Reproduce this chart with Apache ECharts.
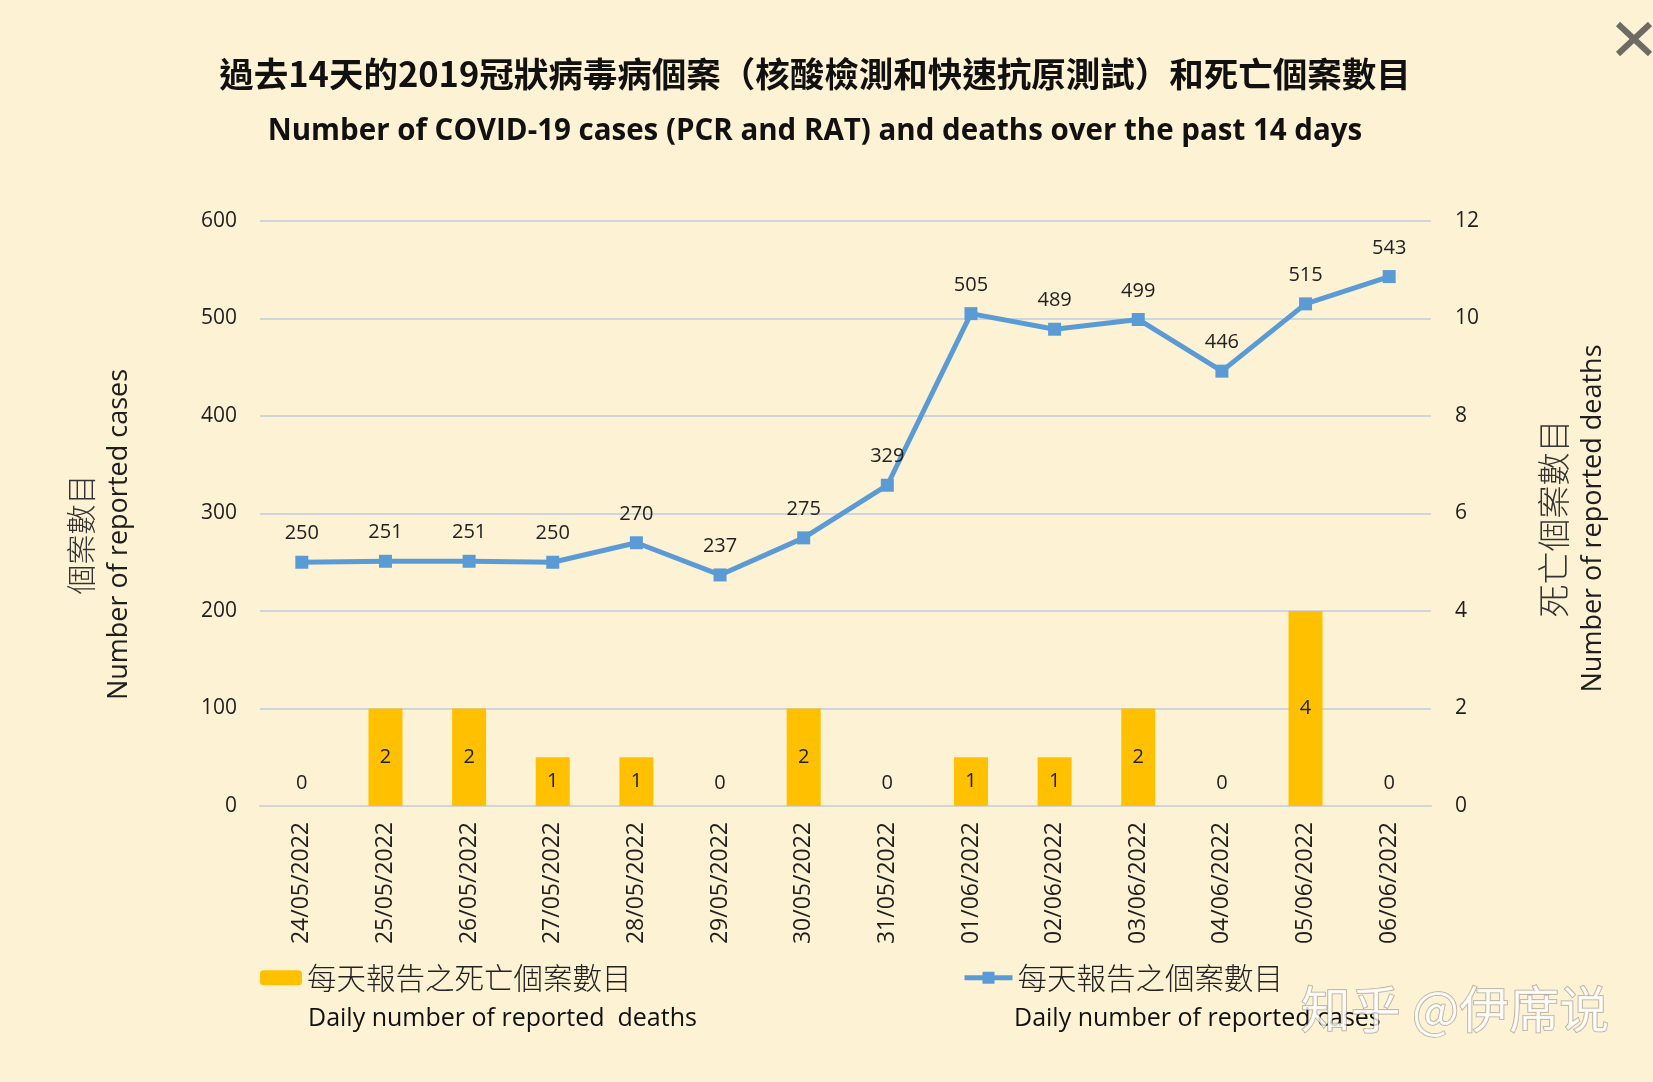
<!DOCTYPE html>
<html>
<head>
<meta charset="utf-8">
<script src="https://cdn.jsdelivr.net/npm/echarts@6/dist/echarts.min.js"></script>
<style>
  html, body { margin: 0; padding: 0; background: #fef2d5; }
  #show_charts { width: 1653px; height: 1082px; }
</style>
</head>
<body>
<div id="show_charts"></div>
<script>
// 日期
var dates = ['24/05/2022', '25/05/2022', '26/05/2022', '27/05/2022', '28/05/2022', '29/05/2022', '30/05/2022',
             '31/05/2022', '01/06/2022', '02/06/2022', '03/06/2022', '04/06/2022', '05/06/2022', '06/06/2022'];
// 每天報告之個案數目
var cases = [250, 251, 251, 250, 270, 237, 275, 329, 505, 489, 499, 446, 515, 543];
// 每天報告之死亡個案數目
var deaths = [0, 2, 2, 1, 1, 0, 2, 0, 1, 1, 2, 0, 4, 0];

var barName = '每天報告之死亡個案數目';
var lineName = '每天報告之個案數目';

var cjk = '"Noto Sans CJK TC", "Noto Sans CJK SC", sans-serif';
var latin = '"Open Sans", "DejaVu Sans", sans-serif';

// 0 值的柱子标签放在轴线上方
var barData = [];
for (var i = 0; i < deaths.length; i++) {
    if (deaths[i] === 0) {
        barData.push({ value: deaths[i], label: { position: 'top', distance: 13 } });
    } else {
        barData.push(deaths[i]);
    }
}

var myChart = echarts.init(document.getElementById('show_charts'));
var option = {
    backgroundColor: '#fef2d5',
    animation: false,
    title: [
        {
            text: '過去14天的2019冠狀病毒病個案（核酸檢測和快速抗原測試）和死亡個案數目',
            left: 810, top: 52, textAlign: 'center',
            textStyle: { fontFamily: cjk, fontWeight: 'bold', fontSize: 34.5, color: '#111' }
        },
        {
            text: 'Number of COVID-19 cases (PCR and RAT) and deaths over the past 14 days',
            left: 810, top: 112, textAlign: 'center',
            textStyle: { fontFamily: latin, fontWeight: 'bold', fontSize: 29.5, color: '#111' }
        }
    ],
    grid: { left: 260, right: 222, top: 221, bottom: 276, containLabel: false },
    legend: [
        {
            data: [barName], left: 260, top: 963, padding: 0,
            itemWidth: 42, itemHeight: 15,
            textStyle: { fontFamily: cjk, fontWeight: 300, fontSize: 29.5, color: '#222' }
        },
        {
            data: [lineName], left: 962, top: 963, padding: 0,
            itemWidth: 48, itemHeight: 15,
            lineStyle: { width: 5 },
            textStyle: { fontFamily: cjk, fontWeight: 300, fontSize: 29.5, color: '#222' }
        }
    ],
    xAxis: {
        type: 'category',
        data: dates,
        axisLine: { lineStyle: { color: '#d3d6d4', width: 2 } },
        axisTick: { show: false },
        axisLabel: { rotate: 90, margin: 16, fontFamily: latin, fontSize: 23, color: '#1e1e1e' }
    },
    yAxis: [
        {
            type: 'value', min: 0, max: 600, interval: 100,
            name: '{cn|個案數目}\n{en|Number of reported cases}',
            nameLocation: 'middle', nameRotate: 90, nameGap: 121,
            nameTextStyle: {
                padding: [0, 42, 0, 0],
                rich: {
                    cn: { fontFamily: cjk, fontWeight: 300, fontSize: 30, lineHeight: 39, color: '#333' },
                    en: { fontFamily: latin, fontSize: 27, lineHeight: 39, color: '#1e1e1e' }
                }
            },
            axisLine: { show: false },
            axisTick: { show: false },
            axisLabel: { margin: 23, fontFamily: latin, fontSize: 21, color: '#1e1e1e' },
            splitLine: { lineStyle: { color: '#cdd6da', width: 2 } }
        },
        {
            type: 'value', min: 0, max: 12, interval: 2,
            name: '{cn|死亡個案數目}\n{en|Number of reported deaths}',
            nameLocation: 'middle', nameRotate: 90, nameGap: 102,
            nameTextStyle: {
                padding: [0, 10, 0, 0],
                rich: {
                    cn: { fontFamily: cjk, fontWeight: 300, fontSize: 33, lineHeight: 40, color: '#333' },
                    en: { fontFamily: latin, fontSize: 27, lineHeight: 40, color: '#1e1e1e' }
                }
            },
            axisLine: { show: false },
            axisTick: { show: false },
            axisLabel: { margin: 24, fontFamily: latin, fontSize: 21, color: '#1e1e1e' },
            splitLine: { show: false }
        }
    ],
    series: [
        {
            name: barName,
            type: 'bar',
            yAxisIndex: 1,
            data: barData,
            barWidth: 34,
            itemStyle: { color: '#ffc000' },
            label: { show: true, position: 'inside', fontFamily: latin, fontSize: 20, color: '#222' }
        },
        {
            name: lineName,
            type: 'line',
            yAxisIndex: 0,
            data: cases,
            symbol: 'rect',
            symbolSize: 13,
            lineStyle: { color: '#5b9bd5', width: 5 },
            itemStyle: { color: '#5b9bd5' },
            label: { show: true, position: 'top', distance: 12, fontFamily: latin, fontSize: 20, color: '#222' }
        }
    ],
    graphic: [
        {
            type: 'text', left: 308, top: 1006,
            style: { text: 'Daily number of reported  deaths', font: '25px ' + latin, fill: '#111' }
        },
        {
            type: 'text', left: 1014, top: 1006,
            style: { text: 'Daily number of reported cases', font: '25px ' + latin, fill: '#111' }
        },
        // 水印
        {
            type: 'text', left: 1300, top: 983, z: 100,
            style: {
                text: '知乎 @伊席说', font: '50px ' + cjk,
                fill: 'rgba(255,255,255,0.8)', stroke: 'rgba(120,115,105,0.55)', lineWidth: 1.5
            }
        },
        // 关闭按钮
        {
            type: 'group', left: 1615, top: 21,
            children: [
                { type: 'line', shape: { x1: 0, y1: 0, x2: 32, y2: 30 }, style: { stroke: '#6d6b64', lineWidth: 6 } },
                { type: 'line', shape: { x1: 32, y1: 0, x2: 0, y2: 30 }, style: { stroke: '#6d6b64', lineWidth: 6 } }
            ]
        }
    ]
};
myChart.setOption(option);
</script>
</body>
</html>
